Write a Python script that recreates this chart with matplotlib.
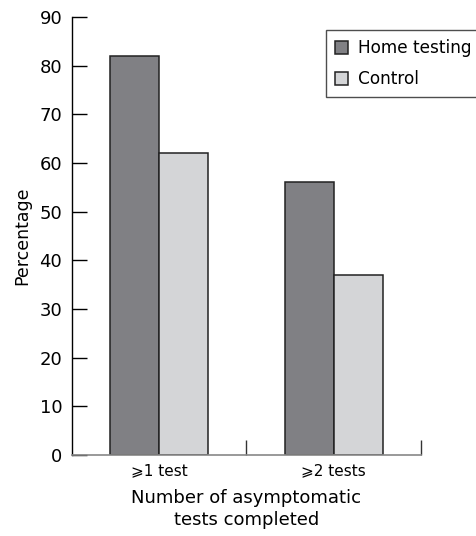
import matplotlib.pyplot as plt
import numpy as np

plt.rcParams['font.family'] = ['DejaVu Sans']

categories = ["\u2a7e1 test", "\u2a7e2 tests"]
home_testing = [82, 56]
control = [62, 37]
yticks = [0, 10, 20, 30, 40, 50, 60, 70, 80, 90]

W, H = 477, 536
fig = plt.figure(figsize=(W / 100, H / 100), dpi=100)
ax = fig.add_axes([72 / W, 1 - 455 / H, (421 - 72) / W, (455 - 17) / H])

x = np.arange(len(categories))
bw = 0.28
ax.bar(x - bw / 2, home_testing, bw, color="#808084", edgecolor="#222222", linewidth=1.1, label="Home testing")
ax.bar(x + bw / 2, control, bw, color="#d4d5d7", edgecolor="#222222", linewidth=1.1, label="Control")

ax.set_xlim(-0.5, 1.5)
ax.set_ylim(0, 90)
ax.set_yticks(yticks)
ax.tick_params(axis="y", direction="in", length=11, width=1, labelsize=13, pad=7)
ax.set_xticks(x)
ax.set_xticklabels(categories, fontsize=11)
ax.tick_params(axis="x", which="major", length=0, pad=6)
ax.set_xticks([0.5, 1.5], minor=True)
ax.tick_params(axis="x", which="minor", direction="in", length=11, width=1, color="#333333")

for s in ["top", "right"]:
    ax.spines[s].set_visible(False)
ax.spines["left"].set_linewidth(1)
ax.spines["bottom"].set_color("#888888")
ax.spines["bottom"].set_linewidth(1.2)

ax.set_ylabel("Percentage", fontsize=12.5, labelpad=6)
ax.set_xlabel("Number of asymptomatic\ntests completed", fontsize=13, labelpad=8, linespacing=1.25)

leg = ax.legend(loc="upper left", bbox_to_anchor=(318 / W, 1 - 22 / H), bbox_transform=fig.transFigure,
                fontsize=12.2, frameon=True, fancybox=False, edgecolor="#222222",
                handlelength=0.8, handleheight=0.8, handletextpad=0.55, borderpad=0.5, labelspacing=0.8)
leg.get_frame().set_linewidth(1)

fig.savefig("out.png", dpi=100)
